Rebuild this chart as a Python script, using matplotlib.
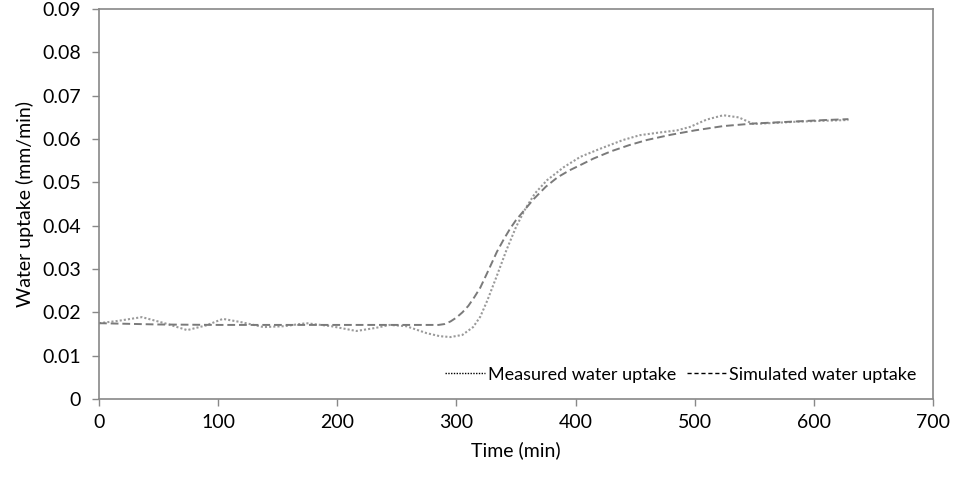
import matplotlib
matplotlib.use("Agg")
import matplotlib.pyplot as plt
import numpy as np

plt.rcParams['font.family'] = ['Lato', 'DejaVu Sans']

# Measured water uptake (min, mm/min)
meas_t = [0, 15, 36, 55, 74, 90, 104, 120, 138, 155, 174, 195, 216, 232, 244, 258, 275, 286, 295, 305, 314,
          320, 326, 334, 342, 350, 358, 366, 376, 390, 404, 420, 440, 454, 470, 485, 496, 510, 524, 537, 549, 565,
          585, 605, 629]
meas_v = [0.0175, 0.0180, 0.0189, 0.0175, 0.0159, 0.0170, 0.0185, 0.0177, 0.0166, 0.0168, 0.0175, 0.0168, 0.0157,
          0.0164, 0.0171, 0.0168, 0.0152, 0.0145, 0.0143, 0.0148, 0.0166, 0.0190, 0.0228, 0.0285, 0.0344, 0.0397,
          0.0440, 0.0475, 0.0505, 0.0535, 0.0559, 0.0577, 0.0598, 0.0609, 0.0615, 0.0620, 0.0628, 0.0645, 0.0655,
          0.0650, 0.0635, 0.0637, 0.0640, 0.0642, 0.0644]

# Simulated water uptake
sim_t = [0, 50, 100, 150, 200, 244, 285, 290, 295, 300, 305, 310, 315, 320, 327, 334, 340, 345, 350, 357, 365,
         375, 385, 395, 404, 415, 430, 445, 460, 480, 500, 524, 550, 580, 610, 629]
sim_v = [0.0175, 0.0172, 0.0171, 0.0171, 0.0171, 0.0171, 0.0171, 0.0173, 0.0179, 0.0188, 0.0200, 0.0215, 0.0235,
         0.0257, 0.0298, 0.0340, 0.0370, 0.0393, 0.0413, 0.0436, 0.0462, 0.0490, 0.0512, 0.0528, 0.0540, 0.0555,
         0.0572, 0.0586, 0.0598, 0.0610, 0.0620, 0.0630, 0.0636, 0.0640, 0.0644, 0.0646]

x_ticks = [0, 100, 200, 300, 400, 500, 600, 700]
y_ticks = [0, 0.01, 0.02, 0.03, 0.04, 0.05, 0.06, 0.07, 0.08, 0.09]
y_labels = ['0', '0.01', '0.02', '0.03', '0.04', '0.05', '0.06', '0.07', '0.08', '0.09']

fig = plt.figure(figsize=(9.54, 4.79), dpi=100)
ax = fig.add_axes([0.1038, 0.167, 0.8742, 0.814])

ax.plot(meas_t, meas_v, linestyle=(0, (1, 1)), color='#9a9a9a', lw=1.5, label='Measured water uptake')
ax.plot(sim_t, sim_v, linestyle=(0, (4, 2)), color='#7a7a7a', lw=1.4, label='Simulated water uptake')

ax.set_xlim(0, 700)
ax.set_ylim(0, 0.09)
ax.set_xticks(x_ticks)
ax.set_yticks(y_ticks)
ax.set_yticklabels(y_labels)
ax.tick_params(axis='both', direction='out', length=5, color='#888888', labelsize=14, width=1)
ax.tick_params(axis='y', pad=8)
ax.tick_params(axis='x', pad=6)
for s in ax.spines.values():
    s.set_color('#888888')
    s.set_linewidth(1.2)

ax.set_xlabel('Time (min)', fontsize=14, labelpad=7)
ax.set_ylabel('Water uptake (mm/min)', fontsize=14, labelpad=6)

h1, = ax.plot([], [], linestyle=(0, (1, 1)), color='black', lw=1)
h2, = ax.plot([], [], linestyle=(0, (3, 2)), color='black', lw=1)
ax.legend([h1, h2], ['Measured water uptake', 'Simulated water uptake'], loc='lower right',
          ncol=2, frameon=False, fontsize=13, handlelength=2.2, handletextpad=0.15,
          columnspacing=0.6, bbox_to_anchor=(1.0, 0.0))

fig.savefig('out.png', dpi=100)
